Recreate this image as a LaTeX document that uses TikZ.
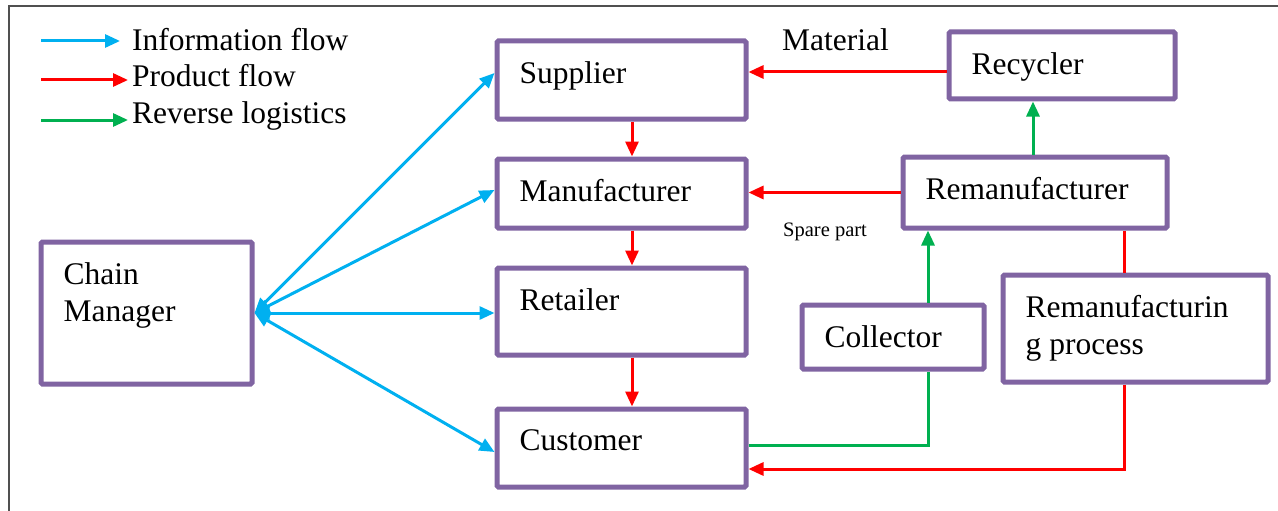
\documentclass[tikz,border=0pt]{standalone}
\usepackage{fontspec}
\setmainfont{Liberation Serif}
\newfontfamily\diagfont{Liberation Serif}
\usetikzlibrary{calc,arrows.meta}
\definecolor{boxpurple}{HTML}{8064A2}
\definecolor{infoblue}{HTML}{00B0F0}
\definecolor{prodred}{HTML}{FF0000}
\definecolor{revgreen}{HTML}{00B050}
\definecolor{framegray}{HTML}{505050}
\tikzset{
	box/.style={draw=boxpurple, line width=5pt, rounded corners=1.5pt, inner sep=0pt},
	boxtext/.style={anchor=north west, inner sep=0pt, align=left, font=\diagfont\fontsize{31.5}{36.5}\selectfont},
	legtext/.style={anchor=base west, inner sep=0pt, font=\diagfont\fontsize{31.5}{36.5}\selectfont},
	smalltext/.style={anchor=base west, inner sep=0pt, font=\diagfont\fontsize{20.5}{24}\selectfont},
	info/.style={draw=infoblue, line width=3pt},
	prod/.style={draw=prodred, line width=3pt},
	rev/.style={draw=revgreen, line width=3pt},
}
\def\flowbox(#1)(#2,#3)(#4,#5)#6{\node[box, minimum width=#4pt, minimum height=#5pt] (#1) at (#2,#3) {};
	\node[boxtext] (#1t) at ([shift={(25,23)}]#1.north west) {#6};}

\begin{document}
\begin{tikzpicture}[x=1pt, y=-1pt, >={Triangle[length=15pt,width=13pt]}]
			%%%%% START %%%%%
			\useasboundingbox (0,0) rectangle (1278,511);
			\draw[framegray, line width=2pt] (1278,6) -| (8.5,511);
			
			% legend
			\node[legtext] (linfo) at (132,51) {Information flow};
			\node[legtext] (lprod) at (132,87) {Product flow};
			\node[legtext] (lrev) at (132,124) {Reverse logistics};
			\coordinate (linfo0) at (41,41);
			\coordinate (lprod0) at (41,80);
			\coordinate (lrev0) at (41,120);
			\draw[info,->] (linfo0) -- ($(linfo0 -| linfo.west)+(-12,0)$);
			\draw[prod,->] (lprod0) -- ($(lprod0 -| lprod.west)+(-4,0)$);
			\draw[rev,->] (lrev0) -- ($(lrev0 -| lrev.west)+(-4,0)$);
			
			% boxes
			\flowbox(cm)(146.5,313)(211,142){Chain\\Manager}
			\flowbox(sup)(621.5,80)(249,78){Supplier}
			\flowbox(man)(621.5,193.5)(249,69){Manufacturer}
			\flowbox(ret)(621.5,311.5)(249,87){Retailer}
			\flowbox(cus)(621.5,448)(249,78){Customer}
			\flowbox(rec)(1062,65.5)(226,67){Recycler}
			\flowbox(rem)(1035,192.5)(264,71){Remanufacturer}
			\flowbox(col)(893,337)(182,64){Collector}
			\flowbox(rmp)(1135.5,328.5)(265,107){Remanufacturin\\g process}
			
			% information flow
			\draw[info,<->] (cm.east) -- ($(sup.west)+(0,-7)$);
			\draw[info,<->] (cm.east) -- ($(man.west)+(0,-3.5)$);
			\draw[info,<->] (cm.east) -- ($(ret.west)+(0,1.5)$);
			\draw[info,<->] (cm.east) -- ($(cus.west)+(0,4)$);
			
			% product flow
			\draw[prod,->] ($(sup.south)+(10.5,0)$) -- ($(man.north)+(10.5,0)$);
			\draw[prod,->] ($(man.south)+(10.5,0)$) -- ($(ret.north)+(10.5,0)$);
			\draw[prod,->] ($(ret.south)+(10.5,0)$) -- ($(cus.north)+(10.5,0)$);
			
			\coordinate (matl) at ($(rec.west)+(0,6.5)$);
			\draw[prod,->] (matl) -- (matl -| sup.east);
			\node[legtext] (matlab) at (782,51) {Material};
			
			\draw[prod,->] (rem.west) -- (rem.west -| man.east);
			\node[smalltext] (sparelab) at (783,236) {Spare part};
			
			\coordinate (rmtop) at ($(rem.south)+(89,0)$);
			\draw[prod] (rmtop) -- (rmtop |- rmp.north);
			\coordinate (rmbot) at ($(rmp.south)+(-11.5,0)$);
			\coordinate (cusin) at ($(cus.east)+(0,21)$);
			\draw[prod,->] (rmbot) |- (cusin);
			
			% reverse logistics
			\coordinate (cusout) at ($(cus.east)+(0,-3)$);
			\coordinate (colbot) at ($(col.south)+(35,0)$);
			\draw[rev] (cusout) -| (colbot);
			\coordinate (coltop) at ($(col.north)+(35,0)$);
			\draw[rev,->] (coltop) -- (coltop |- rem.south);
			\coordinate (remtop) at ($(rem.north)+(-2,0)$);
			\draw[rev,->] (remtop) -- (remtop |- rec.south);
			%%%%% END %%%%%
		\end{tikzpicture}
\end{document}
